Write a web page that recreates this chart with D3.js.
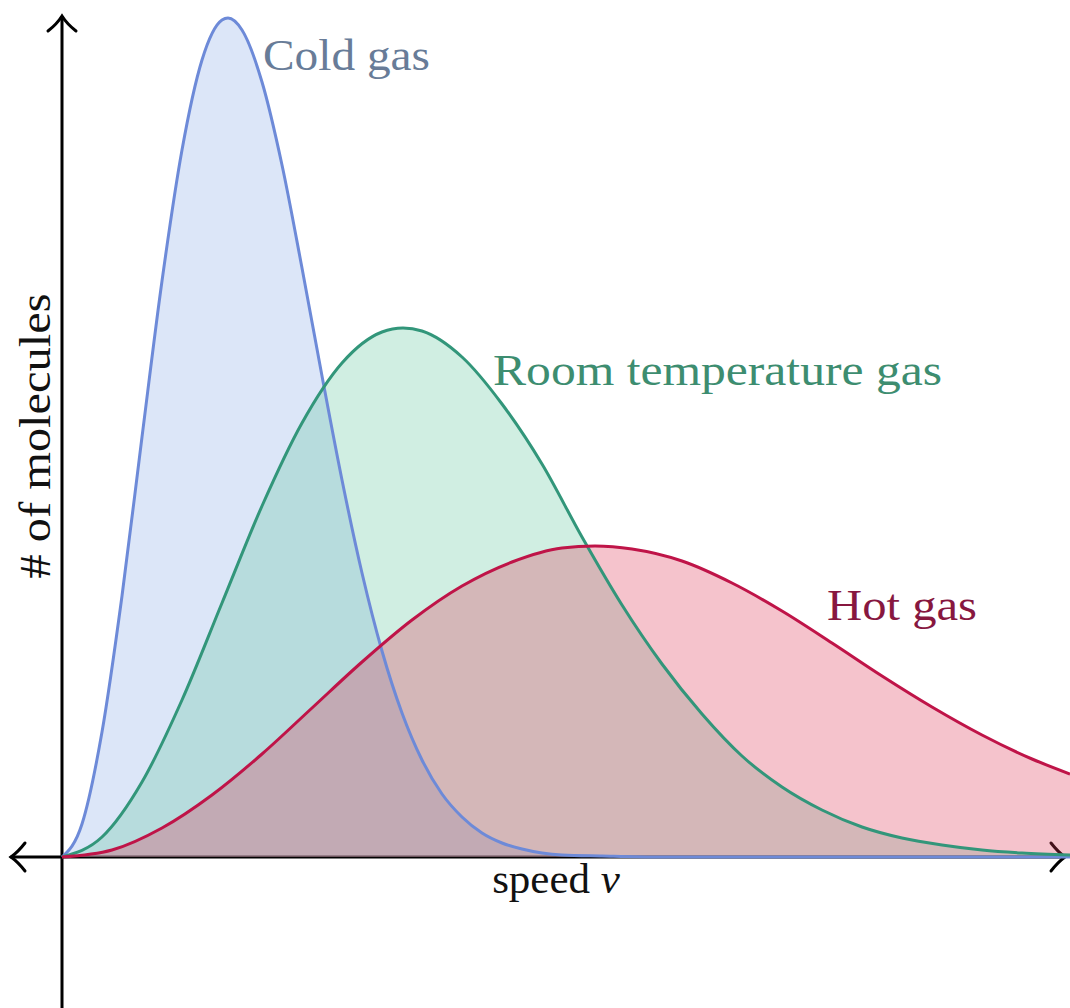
<!DOCTYPE html>
<html>
<head>
<meta charset="utf-8">
<script src="https://cdn.jsdelivr.net/npm/d3@7"></script>
<style>
  html, body { margin: 0; padding: 0; background: #fff; }
  svg { display: block; }
</style>
</head>
<body>
<svg id="chart" width="1070" height="1008"></svg>
<script>
// speed (arbitrary units) and # of molecules (arbitrary units)
const coldSpeed = [0, 2, 4, 6, 8, 10, 12, 14, 16, 16.6, 18, 20, 22, 24, 26, 28, 30, 32, 34, 36, 38, 40, 42, 44, 46, 48, 50, 54, 60, 100.8];
const coldCount = [0, 3.3, 12.5, 26.1, 42.0, 57.6, 70.7, 79.7, 83.7, 83.9, 82.7, 77.5, 69.2, 58.9, 48.1, 37.7, 28.4, 20.6, 14.4, 9.7, 6.3, 4.0, 2.4, 1.4, 0.8, 0.4, 0.2, 0.1, 0, 0];

const roomSpeed = [0, 4, 8, 12, 16, 20, 24, 28, 32, 34.1, 36, 40, 44, 48, 52, 56, 60, 64, 68, 72, 76, 80, 84, 88, 92, 96, 100.8];
const roomCount = [0, 2.0, 7.5, 15.7, 25.4, 35.1, 43.4, 49.4, 52.5, 52.9, 52.6, 50.0, 45.3, 39.3, 32.0, 25.2, 19.3, 14.3, 10.1, 7.0, 4.7, 3.0, 1.9, 1.2, 0.7, 0.4, 0.2];

const hotSpeed = [0, 5, 10, 15, 20, 25, 30, 35, 40, 45, 50, 53.3, 57, 62, 67, 72, 77, 82, 87, 92, 97, 100.8];
const hotCount = [0, 0.7, 2.9, 6.2, 10.3, 14.9, 19.5, 23.7, 27.1, 29.5, 30.9, 31.1, 30.8, 29.6, 27.4, 24.6, 21.4, 18.1, 15.0, 12.2, 9.8, 8.3];

const seriesNames = ["Cold gas", "Room temperature gas", "Hot gas"];

const svg = d3.select("#chart");
const font = "'Liberation Serif', 'Times New Roman', 'DejaVu Serif', serif";

const x = d3.scaleLinear().domain([0, 100.8]).range([62, 1070]);
const y = d3.scaleLinear().domain([0, 83.9]).range([857, 18]);

const series = [
    { name: seriesNames[0], v: coldSpeed, n: coldCount, stroke: "#6d8ad8", fill: "#8aace8", label: "#687c98", lx: 263, ly: 70, len: 167 },
    { name: seriesNames[1], v: roomSpeed, n: roomCount, stroke: "#32967a", fill: "#62c69e", label: "#3d8d70", lx: 493, ly: 385, len: 449 },
    { name: seriesNames[2], v: hotSpeed, n: hotCount, stroke: "#bf1448", fill: "#de3755", label: "#87173f", lx: 827, ly: 620, len: 150 },
];
series.forEach((s) => { s.points = s.v.map((d, i) => [d, s.n[i]]); });

const area = d3.area()
    .x((d) => x(d[0]))
    .y0(y(0))
    .y1((d) => y(d[1]))
    .curve(d3.curveMonotoneX);

const line = d3.line()
    .x((d) => x(d[0]))
    .y((d) => y(d[1]))
    .curve(d3.curveMonotoneX);

// axes (drawn under the curves)
const axes = svg.append("g")
    .attr("stroke", "#000")
    .attr("stroke-width", 3)
    .attr("fill", "none")
    .attr("stroke-linecap", "round");

axes.append("line").attr("x1", x(0)).attr("x2", x(0)).attr("y1", 17).attr("y2", 1008);
axes.append("line").attr("x1", 11).attr("x2", 1064).attr("y1", y(0)).attr("y2", y(0));

// latex style arrow tips
axes.append("path").attr("d", `M${x(0) - 14},31 Q${x(0) - 5},24 ${x(0)},16 Q${x(0) + 5},24 ${x(0) + 14},31`);
axes.append("path").attr("d", `M25,${y(0) - 14} Q18,${y(0) - 5} 11,${y(0)} Q18,${y(0) + 5} 25,${y(0) + 14}`);
axes.append("path").attr("d", `M1051,${y(0) - 14} Q1058,${y(0) - 5} 1065,${y(0)} Q1058,${y(0) + 5} 1051,${y(0) + 14}`);

// fills
svg.append("g")
    .selectAll("path")
    .data(series)
    .join("path")
    .attr("d", (d) => area(d.points))
    .attr("fill", (d) => d.fill)
    .attr("fill-opacity", 0.3);

// curves
svg.append("g")
    .selectAll("path")
    .data(series)
    .join("path")
    .attr("d", (d) => line(d.points))
    .attr("fill", "none")
    .attr("stroke", (d) => d.stroke)
    .attr("stroke-width", 3);

// series labels
svg.append("g")
    .selectAll("text")
    .data(series)
    .join("text")
    .attr("x", (d) => d.lx)
    .attr("y", (d) => d.ly)
    .attr("textLength", (d) => d.len)
    .attr("lengthAdjust", "spacingAndGlyphs")
    .attr("font-family", font)
    .attr("font-size", 45)
    .attr("fill", (d) => d.label)
    .text((d) => d.name);

// axis titles
const xTitle = svg.append("text")
    .attr("x", 556)
    .attr("y", 893)
    .attr("text-anchor", "middle")
    .attr("font-family", font)
    .attr("font-size", 43)
    .attr("fill", "#111");
xTitle.append("tspan").text("speed ");
xTitle.append("tspan").attr("font-style", "italic").text("v");

svg.append("text")
    .attr("transform", "translate(50,436) rotate(-90)")
    .attr("text-anchor", "middle")
    .attr("font-family", font)
    .attr("font-size", 45)
    .attr("textLength", 285)
    .attr("lengthAdjust", "spacingAndGlyphs")
    .attr("fill", "#111")
    .text("# of molecules");
</script>
</body>
</html>
